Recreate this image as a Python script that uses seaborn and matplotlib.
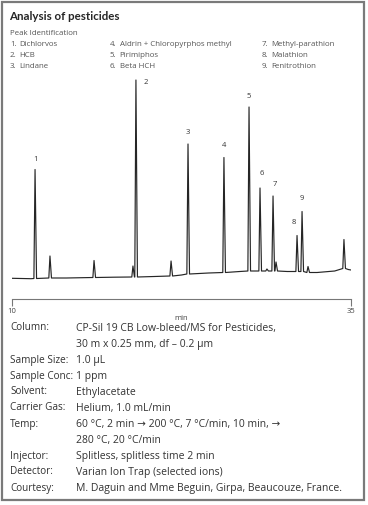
import numpy as np
import pandas as pd
import matplotlib
matplotlib.use("Agg")
import matplotlib.pyplot as plt
import seaborn as sns

# Peak table (time in min, height and local baseline in signal units)
peak_time = [11.70, 12.80, 16.05, 18.92, 19.14, 21.73, 22.98, 25.63, 27.48, 28.29, 28.80, 29.25, 29.47, 31.02, 31.39, 31.83, 34.48]
peak_height = [109, 22, 17, 11, 197, 15, 130, 115, 164, 83, 2, 75, 9, 36, 60, 6, 29]
peak_base = [20.5, 21.0, 21.5, 22.0, 22.0, 23.0, 25.0, 26.5, 28.0, 28.0, 28.0, 28.0, 28.0, 27.5, 27.5, 26.5, 30.5]
peak_label = ["1", "", "", "", "2", "", "3", "4", "5", "6", "", "7", "", "8", "9", "", ""]

# Baseline drift between peaks
base_time = [10.0, 11.4, 14.0, 17.5, 20.5, 22.5, 24.5, 26.8, 28.0, 30.3, 32.5, 33.8, 34.8, 35.0]
base_level = [20.7, 20.3, 21.0, 21.8, 22.5, 24.0, 26.0, 27.5, 28.0, 27.5, 26.5, 28.0, 29.5, 29.0]

peak_names = ["Dichlorvos", "HCB", "Lindane", "Aldrin + Chloropyrphos methyl", "Pirimiphos",
              "Beta HCH", "Methyl-parathion", "Malathion", "Fenitrothion"]

cond_labels = ["Column:", "", "Sample Size:", "Sample Conc:", "Solvent:", "Carrier Gas:",
               "Temp:", "", "Injector:", "Detector:", "Courtesy:"]
cond_values = ["CP-Sil 19 CB Low-bleed/MS for Pesticides,",
               "30 m x 0.25 mm, df \u2013 0.2 \u00b5m",
               "1.0 \u00b5L",
               "1 ppm",
               "Ethylacetate",
               "Helium, 1.0 mL/min",
               "60 \u00b0C, 2 min \u2192 200 \u00b0C, 7 \u00b0C/min, 10 min, \u2192",
               "280 \u00b0C, 20 \u00b0C/min",
               "Splitless, splitless time 2 min",
               "Varian Ion Trap (selected ions)",
               "M. Daguin and Mme Beguin, Girpa, Beaucouze, France."]

sns.set_theme(style="white")
plt.rcParams["font.family"] = ["Open Sans", "DejaVu Sans"]

W, H = 368, 505
fig = plt.figure(figsize=(W / 100, H / 100), dpi=100)


def fx(px):
    return px / W


def fy(py):
    return 1 - py / H


# build the trace polyline: baseline anchors plus a narrow spike per peak
hw = 0.085
pts_t = list(base_time)
pts_s = list(base_level)
for t, h, b in zip(peak_time, peak_height, peak_base):
    pts_t += [t - hw, t, t + hw * 1.3]
    pts_s += [b, b + h, b]
trace = pd.DataFrame({"time": pts_t, "signal": pts_s}).sort_values("time")

ax = fig.add_axes([fx(12), fy(299), fx(351) - fx(12), fy(70) - fy(299)])
sns.lineplot(data=trace, x="time", y="signal", ax=ax, color="#262626", linewidth=0.85,
             estimator=None, sort=False)
ax.set_xlim(10, 35)
ax.set_ylim(0, 229)
ax.set_facecolor("none")
for s in ["top", "right", "left"]:
    ax.spines[s].set_visible(False)
ax.spines["bottom"].set_color("#777777")
ax.spines["bottom"].set_linewidth(0.8)
ax.set_yticks([])
ax.set_xticks([10, 35])
ax.set_xticklabels(["10", "35"])
ax.tick_params(axis="x", direction="out", length=5, width=0.8, color="#777777",
               labelsize=5.5, labelcolor="#444444", pad=1.5, bottom=True)
ax.set_xlabel("min", fontsize=5.5, color="#444444", labelpad=0)
ax.set_ylabel("")

# peak numbers
offsets = {"1": (0, 5), "2": (7, -4), "3": (0, 6), "4": (0, 6), "5": (0, 5),
           "6": (1, 8), "7": (1, 6), "8": (-2, 7), "9": (0, 7)}
for t, h, b, lab in zip(peak_time, peak_height, peak_base, peak_label):
    if lab:
        ax.annotate(lab, (t, b + h), xytext=offsets[lab], textcoords="offset points",
                    ha="center", va="bottom", fontsize=5.5, color="#333333")

# title and peak identification
fig.text(fx(9), fy(16), "Analysis of pesticides", fontsize=8.3, fontweight="bold",
         family=["Lato", "DejaVu Sans"], color="#262626", va="center")
fig.text(fx(10), fy(33), "Peak Identification", fontsize=5.7, color="#555555", va="center")
col_x = [10, 110, 262]
row_y = [44, 55.5, 67]
for i, name in enumerate(peak_names):
    c, r = divmod(i, 3)
    fig.text(fx(col_x[c]), fy(row_y[r]), f"{i + 1}.", fontsize=5.7, color="#555555", va="center")
    fig.text(fx(col_x[c] + 9.5), fy(row_y[r]), name, fontsize=5.7, color="#555555", va="center")

# conditions table
for i, (lab, val) in enumerate(zip(cond_labels, cond_values)):
    y = 328 + i * 16
    if lab:
        fig.text(fx(10), fy(y), lab, fontsize=7.2, color="#333333", va="center")
    fig.text(fx(76), fy(y), val, fontsize=7.5, color="#333333", va="center")

# frame
fig.patches.append(plt.Rectangle((fx(2), fy(500)), fx(364) - fx(2), fy(2) - fy(500),
                                 transform=fig.transFigure, fill=False,
                                 edgecolor="#7a7a7a", linewidth=1.6))

fig.savefig("out.png", dpi=100)
